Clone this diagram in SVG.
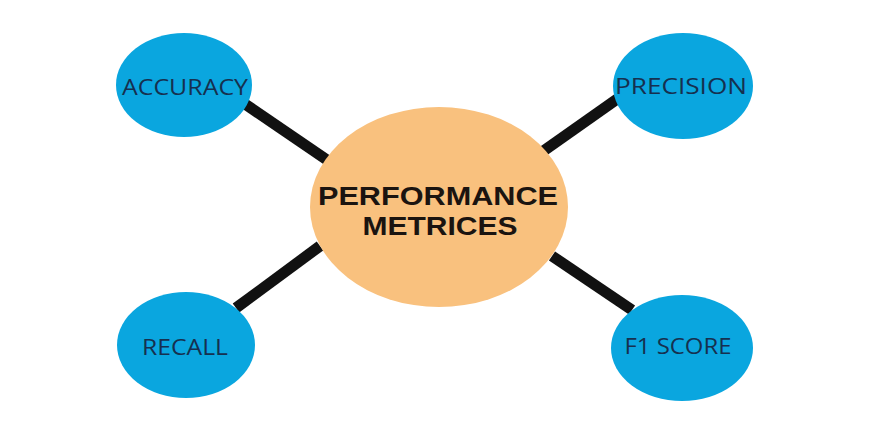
<svg xmlns="http://www.w3.org/2000/svg" width="882" height="433" viewBox="0 0 882 433">
<style>
.leaf{fill:#0aa6df;}
.lt{font-family:"Open Sans","Liberation Sans",sans-serif;font-size:21px;fill:#16304f;text-anchor:middle;}
.ct{font-family:"Liberation Sans",Arial,sans-serif;font-size:25px;font-weight:bold;fill:#1b1410;text-anchor:middle;}
.con{stroke:#111;stroke-width:11;stroke-linecap:butt;}
</style>
<rect width="882" height="433" fill="#ffffff"/>
<g id="connectors">
<line class="con" x1="245" y1="104" x2="330" y2="162"/>
<line class="con" x1="620" y1="97" x2="542" y2="152"/>
<line class="con" x1="236" y1="308" x2="320" y2="246"/>
<line class="con" x1="552" y1="256" x2="632" y2="310"/>
</g>
<g id="center">
<ellipse cx="439" cy="207" rx="129" ry="100" fill="#f9c17e"/>
<text class="ct" x="438" y="205" textLength="240" lengthAdjust="spacingAndGlyphs">PERFORMANCE</text>
<text class="ct" x="440" y="235" textLength="155" lengthAdjust="spacingAndGlyphs">METRICES</text>
</g>
<g id="accuracy">
<ellipse class="leaf" cx="184" cy="85" rx="68" ry="52"/>
<text class="lt" x="185" y="95" textLength="126" lengthAdjust="spacingAndGlyphs">ACCURACY</text>
</g>
<g id="precision">
<ellipse class="leaf" cx="683" cy="86" rx="70" ry="53"/>
<text class="lt" x="681" y="94" textLength="132" lengthAdjust="spacingAndGlyphs">PRECISION</text>
</g>
<g id="recall">
<ellipse class="leaf" cx="186" cy="345" rx="69" ry="53"/>
<text class="lt" x="185" y="355" textLength="86" lengthAdjust="spacingAndGlyphs">RECALL</text>
</g>
<g id="f1score">
<ellipse class="leaf" cx="682" cy="348" rx="71" ry="53"/>
<text class="lt" x="678" y="354" textLength="107" lengthAdjust="spacingAndGlyphs">F1 SCORE</text>
</g>
</svg>
